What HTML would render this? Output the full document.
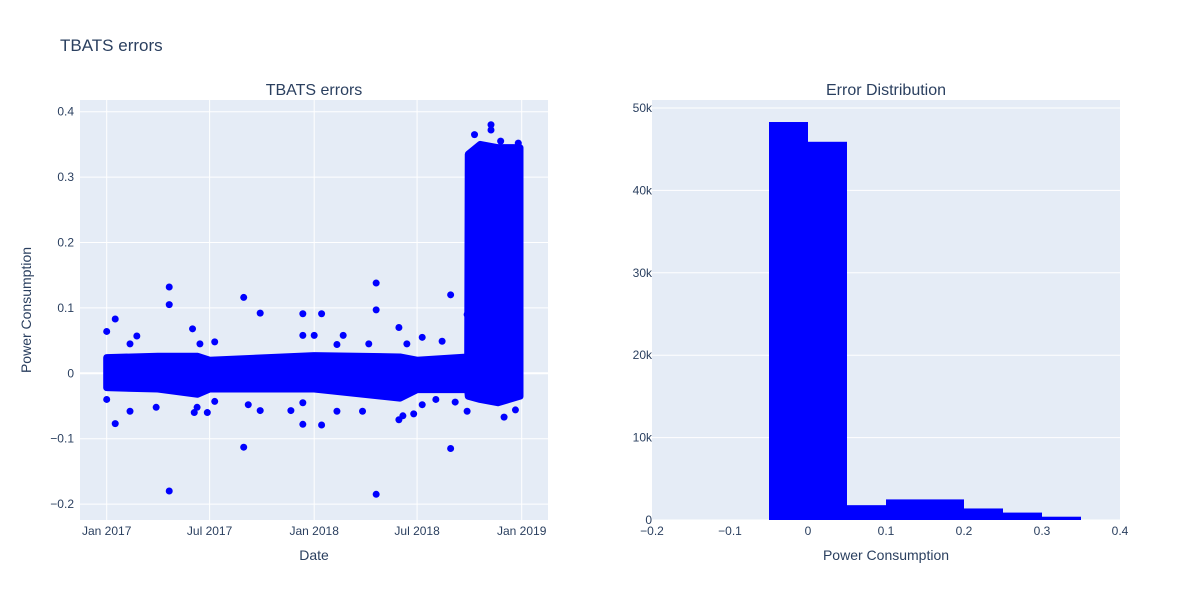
<!DOCTYPE html>
<html><head><meta charset="utf-8">
<style>
body{margin:0;background:#fff;}
svg text{font-family:"Liberation Sans",Arial,sans-serif;fill:#2a3f5f;}
</style></head>
<body>
<svg id="chart" width="1200" height="600" xmlns="http://www.w3.org/2000/svg">
<rect width="1200" height="600" fill="#fff"/>
<text x="60" y="51" font-size="17">TBATS errors</text>
<rect x="80" y="100" width="468" height="420" fill="#e5ecf6"/>
<rect x="652" y="100" width="468" height="420" fill="#e5ecf6"/>
<g id="grid"></g>
<g id="marks"></g>
<g id="labels"></g>
<text x="314" y="95" font-size="16" text-anchor="middle">TBATS errors</text>
<text x="886" y="95" font-size="16" text-anchor="middle">Error Distribution</text>
<text x="314" y="560" font-size="14" text-anchor="middle">Date</text>
<text x="886" y="560" font-size="14" text-anchor="middle">Power Consumption</text>
<text transform="translate(31,310) rotate(-90)" font-size="14" text-anchor="middle">Power Consumption</text>
</svg>
<script>
// Scatter data
const bandDates = ["2017-01-01","2017-04-01","2017-06-10","2017-07-01","2018-01-01","2018-06-01","2018-07-01","2018-09-28","2018-09-29","2018-10-20","2018-11-20","2018-12-29"];
const bandHi = [0.024,0.026,0.026,0.02,0.027,0.025,0.02,0.025,0.335,0.35,0.345,0.345];
const bandLo = [-0.022,-0.024,-0.032,-0.024,-0.024,-0.038,-0.025,-0.025,-0.035,-0.04,-0.045,-0.035];
const outDates = ["2017-01-01","2017-01-01","2017-01-16","2017-01-16","2017-02-11","2017-02-11","2017-02-23","2017-03-29","2017-04-21","2017-04-21","2017-04-21","2017-06-01","2017-06-04","2017-06-09","2017-06-14","2017-06-27","2017-07-10","2017-07-10","2017-08-30","2017-08-30","2017-09-07","2017-09-28","2017-09-28","2017-11-21","2017-12-12","2017-12-12","2017-12-12","2017-12-12","2018-01-01","2018-01-14","2018-01-14","2018-02-10","2018-02-10","2018-02-21","2018-03-27","2018-04-07","2018-04-20","2018-04-20","2018-04-20","2018-05-30","2018-05-30","2018-06-06","2018-06-13","2018-06-25","2018-07-10","2018-07-10","2018-08-03","2018-08-14","2018-08-29","2018-08-29","2018-09-06","2018-09-27","2018-09-27","2018-11-08","2018-11-08","2018-12-01","2018-12-21","2018-10-10","2018-11-25","2018-12-26"];
const outVals = [0.064,-0.04,0.083,-0.077,0.045,-0.058,0.057,-0.052,0.132,0.105,-0.18,0.068,-0.06,-0.052,0.045,-0.06,0.048,-0.043,0.116,-0.113,-0.048,0.092,-0.057,-0.057,0.091,0.058,-0.045,-0.078,0.058,0.091,-0.079,-0.058,0.044,0.058,-0.058,0.045,0.138,0.097,-0.185,0.07,-0.071,-0.065,0.045,-0.062,0.055,-0.048,-0.04,0.049,0.12,-0.115,-0.044,0.09,-0.058,0.38,0.372,-0.067,-0.056,0.365,0.355,0.352];
const yTicks = [-0.2,-0.1,0,0.1,0.2,0.3,0.4];
const yTickLabels = ["−0.2","−0.1","0","0.1","0.2","0.3","0.4"];
const xTickDates = ["2017-01-01","2017-07-01","2018-01-01","2018-07-01","2019-01-01"];
const xTickLabels = ["Jan 2017","Jul 2017","Jan 2018","Jul 2018","Jan 2019"];
// Histogram data
const binStarts = [-0.05,0,0.05,0.1,0.15,0.2,0.25,0.3];
const binCounts = [48300,45900,1800,2500,2500,1400,900,400];
const binWidth = 0.05;
const hxTicks = [-0.2,-0.1,0,0.1,0.2,0.3,0.4];
const hxTickLabels = ["−0.2","−0.1","0","0.1","0.2","0.3","0.4"];
const hyTicks = [0,10000,20000,30000,40000,50000];
const hyTickLabels = ["0","10k","20k","30k","40k","50k"];

const NS="http://www.w3.org/2000/svg";
const t0=Date.UTC(2017,0,1), t1=Date.UTC(2019,0,1);
function d2ms(s){const p=s.split("-");return Date.UTC(+p[0],+p[1]-1,+p[2]);}
function sx(s){return 106.7+(d2ms(s)-t0)/(t1-t0)*415;}
function sy(v){return 373.3-v*654;}
function hx(v){return 652+(v+0.2)/0.6*468;}
function hy(c){return 520-c/50000*412;}
function mk(tag,attrs,parent){const e=document.createElementNS(NS,tag);for(const k in attrs)e.setAttribute(k,attrs[k]);parent.appendChild(e);return e;}
const grid=document.getElementById("grid"),marks=document.getElementById("marks"),labels=document.getElementById("labels");

xTickDates.forEach((d,i)=>{
  const x=sx(d);
  const l=mk("line",{x1:x,x2:x,y1:100,y2:520,stroke:"#fff","stroke-width":1},grid);
  
  
  const t=mk("text",{x:x,y:535,"font-size":12,"text-anchor":"middle"},labels);
  t.textContent=xTickLabels[i];
  
  
});
yTicks.forEach((v,i)=>{
  const y=sy(v);
  const l=mk("line",{x1:80,x2:548,y1:y,y2:y,stroke:"#fff","stroke-width":v===0?2:1},grid);
  
  
  const t=mk("text",{x:74,y:y+4,"font-size":12,"text-anchor":"end"},labels);
  t.textContent=yTickLabels[i];
  
  
});
hyTicks.forEach((v,i)=>{
  const y=hy(v);
  const l=mk("line",{x1:652,x2:1120,y1:y,y2:y,stroke:"#fff","stroke-width":1},grid);
  
  
  const t=mk("text",{x:652,y:y+4,"font-size":12,"text-anchor":"end"},labels);
  t.textContent=hyTickLabels[i];
  
  
});
hxTicks.forEach((v,i)=>{
  const t=mk("text",{x:hx(v),y:535,"font-size":12,"text-anchor":"middle"},labels);
  t.textContent=hxTickLabels[i];
  
  
});
// dense band
let pts=[];
bandDates.forEach((d,i)=>pts.push(sx(d)+","+sy(bandHi[i])));
for(let i=bandDates.length-1;i>=0;i--)pts.push(sx(bandDates[i])+","+sy(bandLo[i]));
const band=mk("polygon",{points:pts.join(" "),fill:"#0000ff",stroke:"#0000ff","stroke-width":7,"stroke-linejoin":"round"},marks);


outDates.forEach((d,i)=>{
  const c=mk("circle",{cx:sx(d),cy:sy(outVals[i]),r:3.5,fill:"#0000ff"},marks);
  
  
});
binStarts.forEach((b,i)=>{
  const x0=hx(b),x1=hx(b+binWidth),y=hy(binCounts[i]);
  const r=mk("rect",{x:x0,y:y,width:x1-x0,height:520-y,fill:"#0000ff"},marks);
  
  
});
</script>
</body></html>
